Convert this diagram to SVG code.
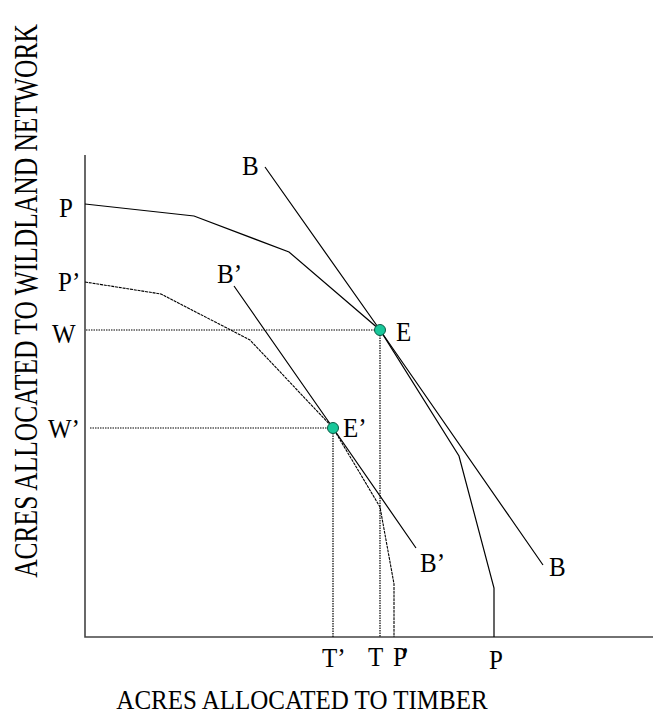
<svg xmlns="http://www.w3.org/2000/svg" width="665" height="715" viewBox="0 0 665 715">
<style>
.lbl{font-family:'Liberation Serif','Times New Roman','DejaVu Serif',serif;font-size:25px;fill:#000}
.axis{stroke:#444;stroke-width:1.6;fill:none}
.curve{stroke:#000;stroke-width:1.2;fill:none}
.thin{stroke:#000;stroke-width:1.1;fill:none;stroke-dasharray:3 0.8}
.dot{stroke:#000;stroke-width:1.2;fill:none;stroke-dasharray:1.5 1}
.pt{fill:#19C79A;stroke:#0a5a44;stroke-width:1}
</style>
<rect width="665" height="715" fill="#fff"/>
<g id="axes">
<path class="axis" d="M85 155 V637 H653"/>
</g>
<g id="reference-lines">
<path class="dot" d="M86 330 H380 M90 428 H333 M380 330 V637 M333 428 V637"/>
</g>
<g id="curves">
<path id="PP" class="curve" d="M85 204 L194 216 L289 252 L380 330 L459 456 L494 588 L494 637"/>
<path id="BB" class="curve" d="M265 167 L380 330 L543 565"/>
<path id="PpPp" class="thin" d="M85 282 L161 294 L250 340 L333 428 L380 507 L394 584 L394 637"/>
<path id="BpBp" class="curve" d="M234 286 L333 428 L416 548"/>
</g>
<g id="points">
<circle id="E" class="pt" cx="380" cy="330" r="5.5"/>
<circle id="Ep" class="pt" cx="333" cy="428" r="5.5"/>
</g>
<g id="labels" font-family="Liberation Serif, serif">
<text class="lbl" transform="translate(59,217) scale(1,1.1)">P</text>
<text class="lbl" transform="translate(58,291) scale(1,1.1)">P’</text>
<text class="lbl" transform="translate(52,343) scale(1,1.1)">W</text>
<text class="lbl" transform="translate(48,438) scale(1,1.1)">W’</text>
<text class="lbl" transform="translate(242,175) scale(1,1.1)">B</text>
<text class="lbl" transform="translate(217,283) scale(1,1.1)">B’</text>
<text class="lbl" transform="translate(396,341) scale(1,1.1)">E</text>
<text class="lbl" transform="translate(343,437) scale(1,1.1)">E’</text>
<text class="lbl" transform="translate(420,572) scale(1,1.1)">B’</text>
<text class="lbl" transform="translate(549,576) scale(1,1.1)">B</text>
<text class="lbl" transform="translate(322,667) scale(1,1.1)">T’</text>
<text class="lbl" transform="translate(368,666) scale(1,1.1)">T</text>
<text class="lbl" transform="translate(393,666) scale(1,1.1)" style="letter-spacing:-6px">P’</text>
<text class="lbl" transform="translate(489,669) scale(1,1.1)">P</text>
<text class="lbl" transform="translate(302,709) scale(1,1.08)" text-anchor="middle">ACRES ALLOCATED TO TIMBER</text>
<text class="lbl" style="font-size:25.5px" transform="translate(37,301) rotate(-90) scale(1,1.3)" text-anchor="middle">ACRES ALLOCATED TO WILDLAND NETWORK</text>
</g>
</svg>
